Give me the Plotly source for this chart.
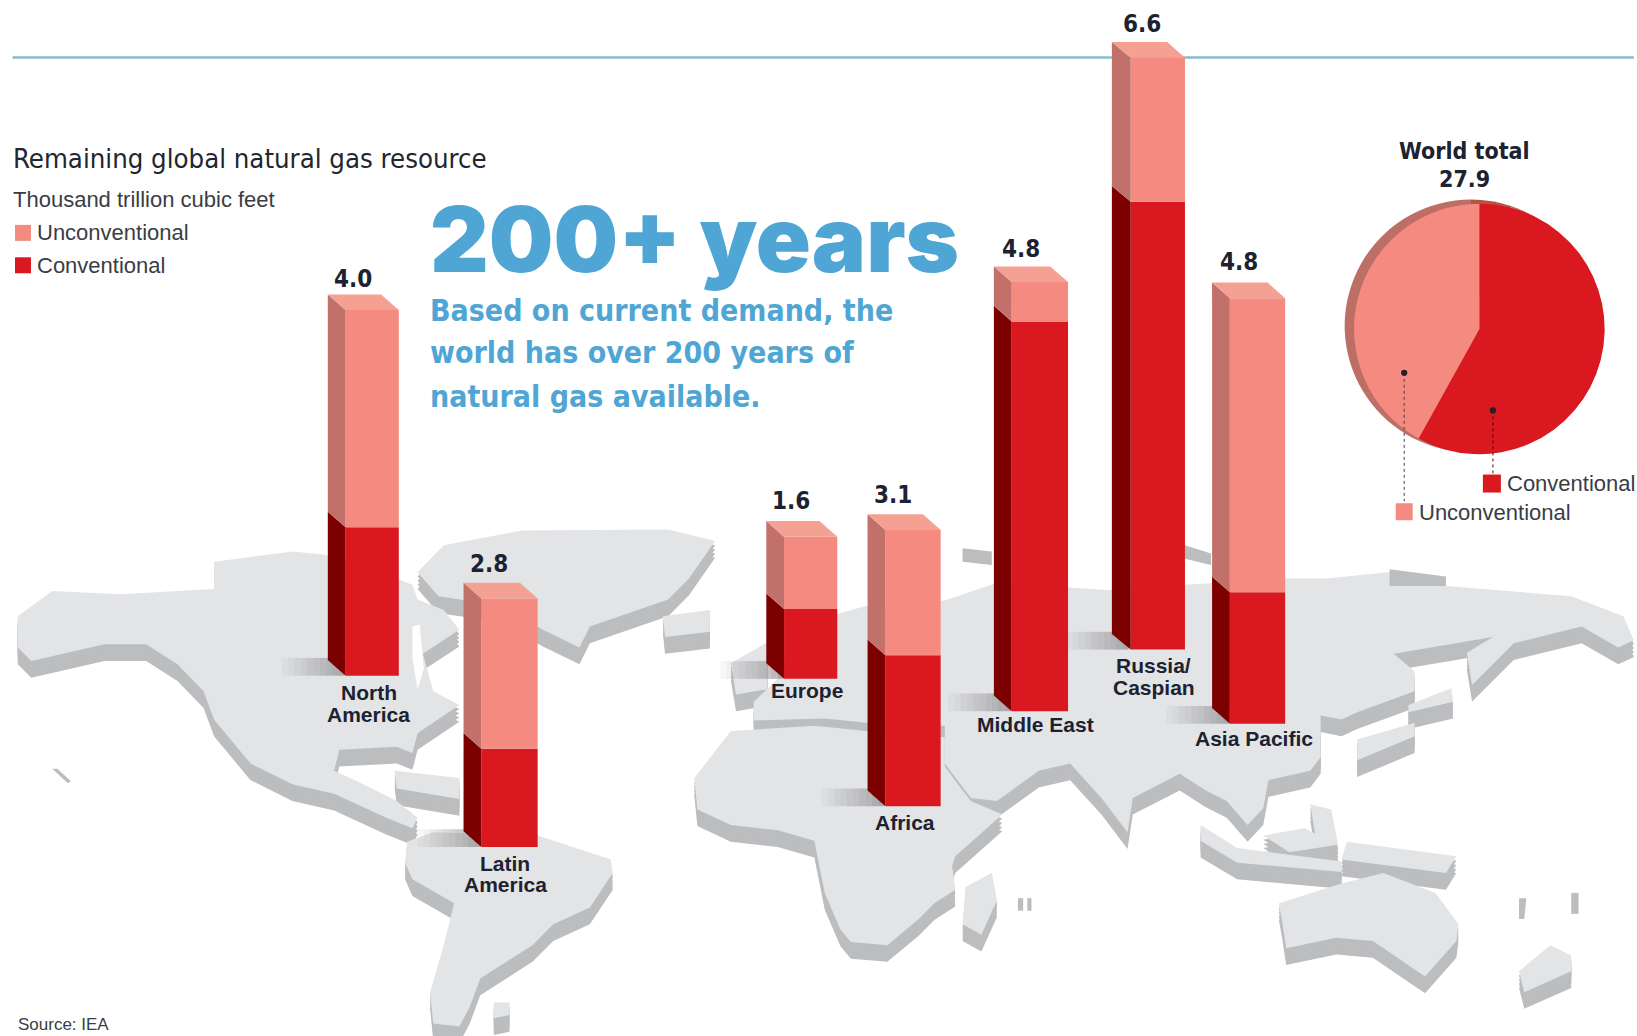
import plotly.graph_objects as go

# ---------- data ----------
regions = ["North America", "Latin America", "Europe", "Africa", "Middle East", "Russia/Caspian", "Asia Pacific"]
total_labels = ["4.0", "2.8", "1.6", "3.1", "4.8", "6.6", "4.8"]
conventional = [1.66, 1.10, 0.78, 1.69, 4.36, 5.01, 1.47]
unconventional = [2.43, 1.68, 0.81, 1.40, 0.44, 1.61, 3.29]
world_labels = ["Conventional", "Unconventional"]
world_values = [16.2, 11.7]

# ---------- layout of the infographic (units: 1568 x 992 canvas) ----------
W, H = 1568, 992
PPU = 85.6
DX, DY = 17, 15
side_x = [314, 444, 734, 831, 952, 1065, 1161]
front_x = [331, 461, 751, 848, 969, 1083, 1178]
right_x = [382, 515, 802, 901, 1023, 1135, 1231]
ground_y = [647, 811, 650, 772, 681, 622, 693]
value_label_pos = [(338, 267), (468, 540), (758, 480), (855, 474), (978, 238), (1094, 23), (1187, 251)]
region_label_pos = [
    [("North", 353, 663), ("America", 353, 684)],
    [("Latin", 484, 827), ("America", 484, 847)],
    [("Europe", 773, 661)],
    [("Africa", 867, 788)],
    [("Middle East", 992, 694)],
    [("Russia/", 1105, 637), ("Caspian", 1105, 658)],
    [("Asia Pacific", 1201, 707)],
]

LAND = "#e3e4e6"
LAND_SIDE = "#bcbdbf"
UNC, UNC_SIDE, UNC_TOP = "#f58a80", "#c1706a", "#f4a093"
CON, CON_SIDE = "#d9181f", "#7d0000"
BLUE = "#4fa6d4"
INK = "#1c2230"
NARROW = "DejaVu Sans Condensed, Liberation Sans"
SANS = "Liberation Sans"

# backdrop map outlines, canvas units
north_america = [(17,590),(50,566),(115,569),(170,566),(205,564),(205,538),(280,528),(310,531),(345,540),(395,560),(400,574),(425,584),(440,603),(405,626),(415,662),(440,675),(400,702),(395,721),(380,715),(325,718),(320,738),(340,747),(380,767),(400,783),(395,793),(370,783),(320,760),(280,751),(240,731),(205,689),(195,662),(170,636),(140,617),(100,617),(60,626),(30,633),(17,620)]
greenland = [(400,548),(425,522),(500,508),(640,507),(685,518),(660,554),(640,574),(565,600),(555,620),(520,603),(480,580),(420,571)]
iceland = [(635,590),(680,584),(680,605),(637,610)]
south_america = [(390,806),(415,797),(515,800),(585,823),(587,836),(565,869),(530,885),(510,905),(460,937),(450,964),(440,983),(415,980),(412,950),(425,905),(435,865),(395,842),(388,826)]
falkland = [(473,960),(488,960),(488,972),(473,975)]
caribbean = [(378,738),(440,745),(440,765),(380,755)]
africa = [(665,745),(700,700),(780,695),(830,700),(905,706),(905,734),(920,754),(930,767),(960,780),(915,820),(912,829),(915,852),(895,865),(880,880),(850,905),(815,902),(805,890),(790,855),(780,805),(745,795),(700,790),(668,775)]
eurasia = [(722,690),(722,672),(745,650),(760,600),(830,580),(905,575),(955,558),(1060,565),(1135,560),(1231,554),(1270,554),(1330,548),(1385,561),(1505,571),(1555,590),(1565,613),(1550,620),(1515,600),(1450,616),(1410,656),(1405,625),(1430,610),(1335,626),(1355,643),(1355,662),(1300,682),(1285,689),(1265,685),(1265,725),(1255,738),(1215,747),(1210,774),(1195,790),(1175,767),(1155,757),(1130,741),(1085,764),(1080,797),(1055,764),(1025,731),(995,738),(955,767),(930,764),(905,731),(905,695),(830,692),(790,688)]
uk = [(700,635),(735,615),(735,660),(705,665)]
japan = [(1300,708),(1355,692),(1355,705),(1300,728)]
sakhalin = [(1390,659),(1392,672),(1349,682),(1349,675)]
malay_sumatra = [(1150,790),(1185,812),(1285,825),(1285,835),(1185,826),(1150,805)]
borneo = [(1210,800),(1250,793),(1280,809),(1235,816)]
philippines = [(1255,770),(1275,775),(1282,810),(1260,800)]
new_guinea = [(1290,806),(1395,820),(1385,836),(1285,823)]
australia = [(1225,865),(1285,846),(1325,836),(1375,855),(1397,885),(1395,901),(1365,935),(1315,901),(1280,898),(1232,908),(1228,882)]
new_zealand = [(1485,905),(1505,915),(1505,930),(1460,950),(1455,930)]
madagascar = [(950,836),(955,862),(940,895),(922,885),(925,849)]
land_polygons = [north_america, greenland, iceland, south_america, falkland, caribbean, africa, eurasia, uk,
                 japan, sakhalin, malay_sumatra, borneo, philippines, new_guinea, australia, new_zealand, madagascar]
small_islands = [
    [(50,736),(55,736),(68,748),(65,750)],
    [(922,525),(950,528),(950,541),(922,538)],
    [(1135,522),(1160,530),(1160,541),(1135,535)],
    [(1331,545),(1385,552),(1385,561),(1331,561)],
    [(1455,860),(1462,860),(1460,880),(1455,880)],
    [(1505,855),(1512,855),(1512,875),(1505,875)],
    [(975,860),(980,860),(980,872),(975,872)],
    [(984,860),(988,860),(988,872),(984,872)],
]
inland_water = [
    [(395,600),(402,598),(406,640),(400,660),(395,630)],
]

fig = go.Figure()

# ---------- map ----------
def poly(pts, color, shift=0):
    xs = [p[0] for p in pts] + [pts[0][0]]
    ys = [p[1] + shift for p in pts] + [pts[0][1] + shift]
    fig.add_trace(go.Scatter(x=xs, y=ys, mode="lines", fill="toself", fillcolor=color,
                             line=dict(width=0, color=color), hoverinfo="skip", showlegend=False))

for shift in (16, 12, 8, 4):
    for p in land_polygons:
        poly(p, LAND_SIDE, shift)
for p in land_polygons:
    poly(p, LAND)
for p in small_islands:
    poly(p, LAND_SIDE)
for p in inland_water:
    poly(p, "white")

# ---------- bar shadows on the map ----------
STEPS = 10
for sx, g in zip(side_x, ground_y):
    x0 = sx - 44
    for i in range(STEPS):
        a = (i + 1) / STEPS * 0.55
        poly([(x0 + i * 6, g - 17), (x0 + i * 6 + 6, g - 17), (x0 + i * 6 + 6, g), (x0 + i * 6, g)],
             f"rgba(120,120,120,{a:.2f})")

# ---------- bars, in value units ----------
bases = [(H - g) / PPU for g in ground_y]
centers = [(f + r) / 2 for f, r in zip(front_x, right_x)]
widths = [r - f for f, r in zip(front_x, right_x)]
ddy = DY / PPU

def face(xs, ys, color):
    fig.add_trace(go.Scatter(x=xs + xs[:1], y=ys + ys[:1], yaxis="y2", mode="lines", fill="toself",
                             fillcolor=color, line=dict(width=0, color=color),
                             hoverinfo="skip", showlegend=False))

for i in range(len(regions)):
    b = bases[i]
    c = b + conventional[i]
    t = c + unconventional[i]
    face([side_x[i], front_x[i], front_x[i], side_x[i]], [b + ddy, b, c, c + ddy], CON_SIDE)
    face([side_x[i], front_x[i], front_x[i], side_x[i]], [c + ddy, c, t, t + ddy], UNC_SIDE)
    face([side_x[i], right_x[i] - DX, right_x[i], front_x[i]], [t + ddy, t + ddy, t, t], UNC_TOP)

fig.add_trace(go.Bar(x=centers, y=conventional, base=bases, width=widths, yaxis="y2", name="Conventional",
                     marker=dict(color=CON, line=dict(width=0)), customdata=regions, showlegend=False))
fig.add_trace(go.Bar(x=centers, y=unconventional, base=[b + v for b, v in zip(bases, conventional)], width=widths,
                     yaxis="y2", name="Unconventional", marker=dict(color=UNC, line=dict(width=0)),
                     customdata=regions, showlegend=False))

# ---------- world-total pie ----------
def dom(cx, cy, r):
    return dict(x=[(cx - r) / W, (cx + r) / W], y=[1 - (cy + r) / H, 1 - (cy - r) / H])

fig.add_trace(go.Pie(values=[world_values[0] * 0.09, world_values[0] * 0.91 + world_values[1]], sort=False,
                     direction="clockwise", rotation=0, textinfo="none", hoverinfo="skip", showlegend=False,
                     marker=dict(colors=["#b5543f", "#bd6f66"], line=dict(width=0)), domain=dom(1409, 312, 121)))
fig.add_trace(go.Pie(labels=world_labels, values=world_values, sort=False, direction="clockwise", rotation=0,
                     textinfo="none", showlegend=False, marker=dict(colors=[CON, UNC], line=dict(width=0)),
                     domain=dom(1417, 315, 120)))

# ---------- legends as square markers ----------
fig.add_trace(go.Scatter(x=[22, 22, 1429, 1345], y=[223, 254, 463, 490], mode="markers", hoverinfo="skip",
                         showlegend=False, marker=dict(symbol="square", size=[16, 16, 18, 17], opacity=1,
                                                       color=[UNC, CON, CON, UNC], line=dict(width=0))))

# ---------- text ----------
ann = []
def text(x, y, s, size, color=INK, font=SANS, anchor="center", weight=None):
    f = dict(family=font, size=size, color=color)
    if weight:
        f["weight"] = weight
    ann.append(dict(x=x, y=y, xref="x", yref="y", text=s, showarrow=False, xanchor=anchor, yanchor="middle",
                    borderpad=0, borderwidth=0, font=f))

text(12, 152, "Remaining global natural gas resource", 27.3, "#22262e", NARROW, "left")
text(12, 191, "Thousand trillion cubic feet", 22, "#3a3d44", SANS, "left")
text(35, 223, "Unconventional", 22, "#3a3d44", SANS, "left")
text(35, 254, "Conventional", 22, "#3a3d44", SANS, "left")
text(412, 229, "200+ years", 91, BLUE, "Inter", "left", 900)
text(412, 297, "Based on current demand, the", 30, BLUE, NARROW, "left", 700)
text(412, 338, "world has over 200 years of", 30, BLUE, NARROW, "left", 700)
text(412, 380, "natural gas available.", 30, BLUE, NARROW, "left", 700)
text(1403, 145, "World total", 23, INK, NARROW, "center", 700)
text(1403, 171, "27.9", 23, INK, NARROW, "center", 700)
text(1443, 463, "Conventional", 22, "#3a3d44", SANS, "left")
text(1359, 491, "Unconventional", 22, "#3a3d44", SANS, "left")
text(17, 981, "Source: IEA", 17, "#3a3d44", SANS, "left")
for lab, (x, y) in zip(total_labels, value_label_pos):
    text(x, y, lab, 24, INK, NARROW, "center", 700)
for parts in region_label_pos:
    for s, x, y in parts:
        text(x, y, f"<b>{s}</b>", 21, INK, SANS)

# ---------- leader lines ----------
shapes = [
    dict(type="line", xref="x", yref="y", x0=12, x1=1565, y0=55, y1=55, layer="below",
         line=dict(color="#86bccb", width=2.5)),
    dict(type="line", xref="x", yref="y", x0=1345, x1=1345, y0=357, y1=480, line=dict(color="#444444", width=1, dash="dot")),
    dict(type="line", xref="x", yref="y", x0=1430, x1=1430, y0=393, y1=456, line=dict(color="#5a0000", width=1, dash="dot")),
    dict(type="circle", xref="x", yref="y", x0=1342, x1=1348, y0=354, y1=360, fillcolor="#222222", line=dict(width=0)),
    dict(type="circle", xref="x", yref="y", x0=1427, x1=1433, y0=390, y1=396, fillcolor="#222222", line=dict(width=0)),
]

axis = dict(visible=False, fixedrange=True, showgrid=False, zeroline=False)
fig.update_layout(
    width=1637, height=1036, margin=dict(l=0, r=0, t=0, b=0, pad=0),
    paper_bgcolor="white", plot_bgcolor="white", showlegend=False, barmode="overlay",
    xaxis=dict(range=[0, W], domain=[0, 1], **axis),
    yaxis=dict(range=[H, 0], domain=[0, 1], **axis),
    yaxis2=dict(range=[0, H / PPU], overlaying="y", **axis),
    annotations=ann, shapes=shapes,
)
fig.write_html("out.html", post_script="document.body.style.margin='0';document.body.style.overflow='hidden';",
               config=dict(displayModeBar=False))
